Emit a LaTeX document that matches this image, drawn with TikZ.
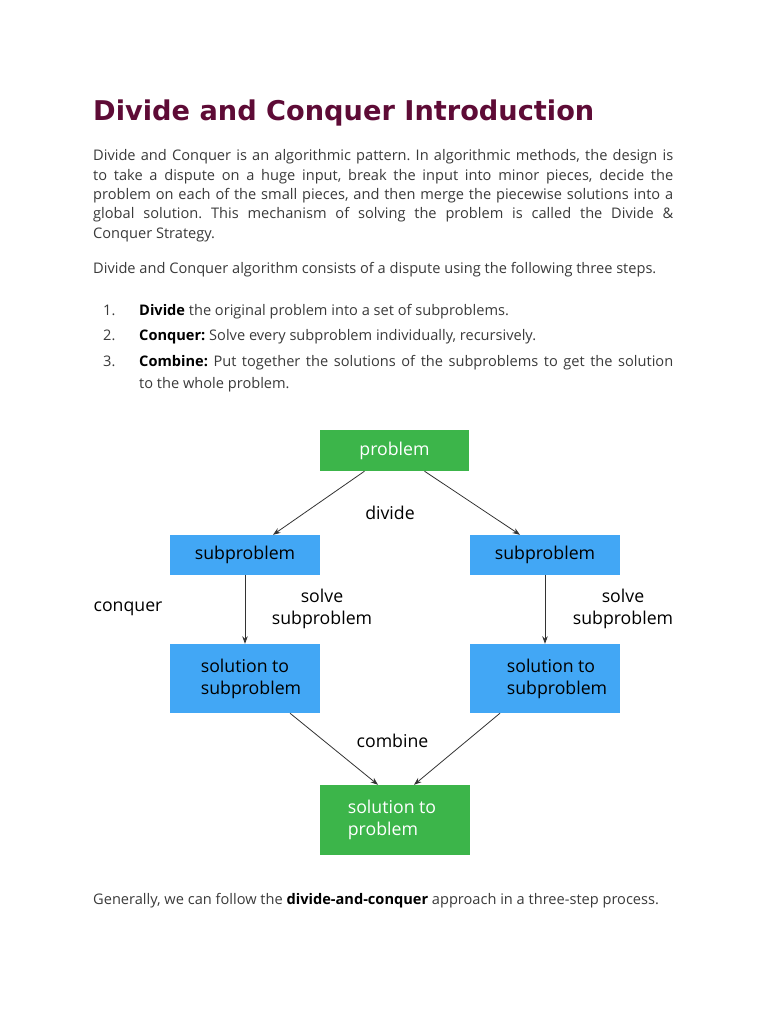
\documentclass[tikz,border=0pt]{standalone}
\usepackage{fontspec}
\setmainfont{Open Sans}
\newfontfamily\titlefont{DejaVu Sans}
\usetikzlibrary{arrows.meta}
\definecolor{titlecol}{HTML}{5E0B36}
\definecolor{bodycol}{HTML}{3A3A3A}
\definecolor{boxgreen}{HTML}{3CB54A}
\definecolor{boxblue}{HTML}{42A7F5}
\definecolor{arrowcol}{HTML}{333333}
\frenchspacing
\begin{document}
\begin{tikzpicture}[x=1pt,y=-1pt,
  body/.style={inner sep=0pt,anchor=base west,text=bodycol,font=\fontsize{14.6}{19.3}\selectfont},
  greenbox/.style={fill=boxgreen,text=white,inner sep=0pt,font=\fontsize{17.7}{22}\selectfont,align=left},
  bluebox/.style={fill=boxblue,text=black,inner sep=0pt,font=\fontsize{17.7}{22}\selectfont,align=left},
  lbl/.style={inner sep=0pt,text=black,font=\fontsize{17.7}{22}\selectfont,align=center},
  conn/.style={draw=arrowcol,line width=0.8pt,-{Stealth[length=7.5pt,width=5.5pt]}}]
\useasboundingbox[fill=white] (0,0) rectangle (768,1024);

% title
\node[inner sep=0pt,anchor=base west,text=titlecol,font=\titlefont\bfseries\fontsize{27.2}{32}\selectfont] (title) at (93,120.5) {Divide and Conquer Introduction};

% paragraph 1
\node[body,text width=580pt,align=justify] (para1) at (93,161) {%
Divide and Conquer is an algorithmic pattern. In algorithmic methods, the design is\linebreak
to take a dispute on a huge input, break the input into minor pieces, decide the\linebreak
problem on each of the small pieces, and then merge the piecewise solutions into a\linebreak
global solution. This mechanism of solving the problem is called the Divide \&\linebreak
Conquer Strategy.};

% paragraph 2
\node[body] (para2) at (93,273) {Divide and Conquer algorithm consists of a dispute using the following three steps.};

% list
\node[body] (n1) at (103,315) {1.};
\node[body] (t1) at (139,315) {\textbf{\color{black}Divide} the original problem into a set of subproblems.};
\node[body] (n2) at (103,340) {2.};
\node[body] (t2) at (139,340) {\textbf{\color{black}Conquer:} Solve every subproblem individually, recursively.};
\node[body] (n3) at (103,366) {3.};
\node[body,text width=534pt,align=justify,font=\fontsize{14.6}{22}\selectfont] (t3) at (139,366) {%
\textbf{\color{black}Combine:} Put together the solutions of the subproblems to get the solution\linebreak
to the whole problem.};

% diagram boxes
\node[greenbox,minimum width=149pt,minimum height=41pt] (problem) at (394.5,450.5) {problem};
\node[bluebox,minimum width=150pt,minimum height=40pt] (subL) at (245,555) {subproblem};
\node[bluebox,minimum width=150pt,minimum height=40pt] (subR) at (545,555) {subproblem};
\node[bluebox,minimum width=150pt,minimum height=69pt] (solL) at (245,678.5) {\hspace*{12pt}solution to\\\hspace*{12pt}subproblem};
\node[bluebox,minimum width=150pt,minimum height=69pt] (solR) at (545,678.5) {\hspace*{24pt}solution to\\\hspace*{24pt}subproblem};
\node[greenbox,minimum width=150pt,minimum height=70pt] (final) at (395,820) {solution to\hspace*{6pt}\\problem};

% labels
\node[lbl] (ldivide) at (390,513) {divide};
\node[lbl] (lconquer) at (128,609) {conquer};
\node[lbl] (lsolveL) at (322,609) {solve\\subproblem};
\node[lbl] (lsolveR) at (623,609) {solve\\subproblem};
\node[lbl] (lcombine) at (392.5,741) {combine};

% connectors
\draw[conn] ([xshift=-30pt]problem.south) -- ([xshift=28pt]subL.north);
\draw[conn] ([xshift=30pt]problem.south) -- ([xshift=-25pt]subR.north);
\draw[conn] (subL.south) -- (solL.north);
\draw[conn] (subR.south) -- (solR.north);
\draw[conn] ([xshift=45pt]solL.south) -- ([xshift=-17pt]final.north);
\draw[conn] ([xshift=-45pt]solR.south) -- ([xshift=19pt]final.north);

% closing text
\node[body] (closing) at (93,904) {Generally, we can follow the \textbf{\color{black}divide-and-conquer} approach in a three-step process.};
\end{tikzpicture}
\end{document}
